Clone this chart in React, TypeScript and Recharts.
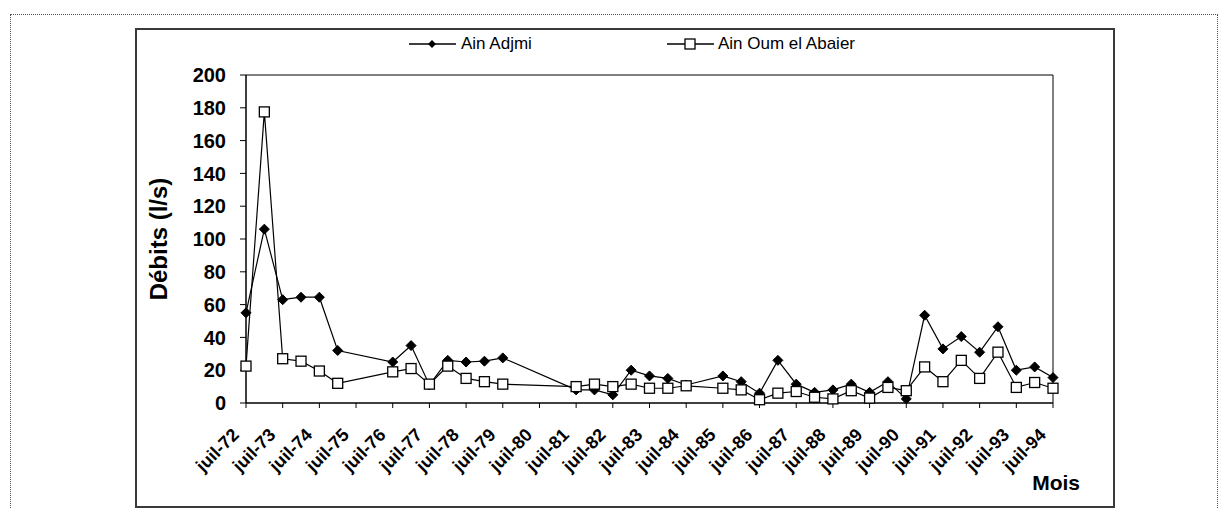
import { LineChart, Line, XAxis, YAxis, Legend, ReferenceArea } from 'recharts'

// time of each measurement, in years after juil-72
const years = [0, 0.5, 1, 1.5, 2, 2.5, 4, 4.5, 5, 5.5, 6, 6.5, 7, 9, 9.5, 10, 10.5, 11, 11.5, 12, 13, 13.5, 14, 14.5, 15, 15.5, 16, 16.5, 17, 17.5, 18, 18.5, 19, 19.5, 20, 20.5, 21, 21.5, 22]

const ainAdjmi = [55, 106, 63, 64.5, 64.5, 32, 25, 35, 11, 26, 25, 25.5, 27.5, 8, 8, 5, 20, 16.5, 15, 11, 16.5, 13, 6, 26, 11.5, 6.5, 8, 11.5, 6.5, 13, 2.5, 53.5, 33, 40.5, 31, 46.5, 20, 22, 15.5]

const ainOumElAbaier = [22.5, 177.5, 27, 25.5, 19.5, 12, 19, 21, 11.5, 22.5, 15, 13, 11.5, 10, 11.5, 10, 11.5, 9, 9, 10.5, 9, 8, 2, 6, 7, 3.5, 2.5, 7.5, 3, 9.5, 7.5, 22, 13, 26, 15, 31, 9.5, 12.5, 9]

const monthLabels = ['juil-72', 'juil-73', 'juil-74', 'juil-75', 'juil-76', 'juil-77', 'juil-78', 'juil-79', 'juil-80', 'juil-81', 'juil-82', 'juil-83', 'juil-84', 'juil-85', 'juil-86', 'juil-87', 'juil-88', 'juil-89', 'juil-90', 'juil-91', 'juil-92', 'juil-93', 'juil-94']

const debitTicks = [0, 20, 40, 60, 80, 100, 120, 140, 160, 180, 200]

const seriesNames = ['Ain Adjmi', 'Ain Oum el Abaier']

const FONT = 'Arial, "Liberation Sans", sans-serif'

const data = buildData()

function buildData() {
    const rows = []
    for (let i = 0; i < years.length; i++) {
        rows.push({
            t: years[i],
            adjmi: ainAdjmi[i],
            oum: ainOumElAbaier[i],
        })
    }
    return rows
}

function Diamond(props: any) {
    const { cx, cy, index } = props
    if (cx == null || cy == null) return null
    const s = 5
    return (
        <polygon
            key={'d' + index}
            points={`${cx},${cy - s} ${cx + s},${cy} ${cx},${cy + s} ${cx - s},${cy}`}
            fill="#000"
            stroke="#000"
            strokeWidth={1}
        />
    )
}

function Square(props: any) {
    const { cx, cy, index } = props
    if (cx == null || cy == null) return null
    return <rect key={'s' + index} x={cx - 5} y={cy - 5} width={10} height={10} fill="#fff" stroke="#000" strokeWidth={1.3} />
}

function MonthTick(props: any) {
    const { x, y, payload } = props
    return (
        <g transform={`translate(${x},${y})`}>
            <text
                x={-6}
                y={26}
                transform="rotate(-45 -6 26)"
                textAnchor="end"
                fontFamily={FONT}
                fontWeight="bold"
                fontSize={18}
                fill="#000"
            >
                {monthLabels[payload.value]}
            </text>
        </g>
    )
}

function MoisLabel(props: any) {
    const { viewBox } = props
    return (
        <text x={viewBox.x + viewBox.width + 27} y={viewBox.y + 87} textAnchor="end" fontFamily={FONT} fontWeight="bold" fontSize={21} fill="#000">
            Mois
        </text>
    )
}

function LegendContent() {
    return (
        <div style={{ display: 'flex', fontFamily: FONT, fontSize: 17, color: '#000' }}>
            <div style={{ display: 'flex', alignItems: 'center', width: 258 }}>
                <svg width={47} height={12}>
                    <line x1={0} y1={6} x2={47} y2={6} stroke="#000" strokeWidth={1.3} />
                    <polygon points="23,2 27,6 23,10 19,6" fill="#000" />
                </svg>
                <span style={{ marginLeft: 5 }}>{seriesNames[0]}</span>
            </div>
            <div style={{ display: 'flex', alignItems: 'center' }}>
                <svg width={47} height={12}>
                    <line x1={0} y1={6} x2={47} y2={6} stroke="#000" strokeWidth={1.3} />
                    <rect x={18} y={1} width={10} height={10} fill="#fff" stroke="#000" strokeWidth={1.3} />
                </svg>
                <span style={{ marginLeft: 4 }}>{seriesNames[1]}</span>
            </div>
        </div>
    )
}

export default function App() {
    return (
        <div style={{ position: 'absolute', left: 0, top: 0, width: 1226, height: 508, overflow: 'hidden', background: '#fff' }}>
            <div style={{ position: 'absolute', left: 10, top: 14, width: 1208, height: 520, border: '1px dotted #555', boxSizing: 'border-box' }} />
            <div style={{ position: 'absolute', left: 135, top: 28, width: 980, height: 480, border: '2px solid #3a3a3a', boxSizing: 'border-box' }} />
            <div style={{ position: 'absolute', left: 0, top: 0 }}>
                <LineChart
                    width={1226}
                    height={508}
                    data={data}
                    margin={{ top: 75, right: 173, left: 0, bottom: 0 }}
                >
                    <XAxis
                        dataKey="t"
                        type="number"
                        domain={[0, 22]}
                        ticks={monthLabels.map((_, i) => i)}
                        interval={0}
                        height={105}
                        tickSize={5}
                        tick={<MonthTick />}
                        axisLine={{ stroke: '#000' }}
                        tickLine={{ stroke: '#000' }}
                        label={<MoisLabel />}
                    />
                    <YAxis
                        type="number"
                        domain={[0, 200]}
                        ticks={debitTicks}
                        interval={0}
                        width={246}
                        tickSize={6}
                        tickMargin={14}
                        tick={{ fontFamily: FONT, fontWeight: 'bold', fontSize: 20, fill: '#000' }}
                        axisLine={{ stroke: '#000' }}
                        tickLine={{ stroke: '#000' }}
                        label={{
                            value: 'Débits (l/s)',
                            angle: -90,
                            position: 'center',
                            dx: 35,
                            style: { fontFamily: FONT, fontWeight: 'bold', fontSize: 24, fill: '#000', textAnchor: 'middle' },
                        }}
                    />
                    <ReferenceArea x1={0} x2={22} y1={0} y2={200} fill="none" stroke="#000" strokeWidth={1} />
                    <Legend
                        verticalAlign="middle"
                        layout="horizontal"
                        content={<LegendContent />}
                        wrapperStyle={{ left: 409, top: 34, width: 'auto' }}
                    />
                    <Line
                        type="linear"
                        dataKey="adjmi"
                        name={seriesNames[0]}
                        stroke="#000"
                        strokeWidth={1.2}
                        dot={Diamond}
                        activeDot={false}
                        isAnimationActive={false}
                    />
                    <Line
                        type="linear"
                        dataKey="oum"
                        name={seriesNames[1]}
                        stroke="#000"
                        strokeWidth={1.2}
                        dot={Square}
                        activeDot={false}
                        isAnimationActive={false}
                    />
                </LineChart>
            </div>
        </div>
    )
}
